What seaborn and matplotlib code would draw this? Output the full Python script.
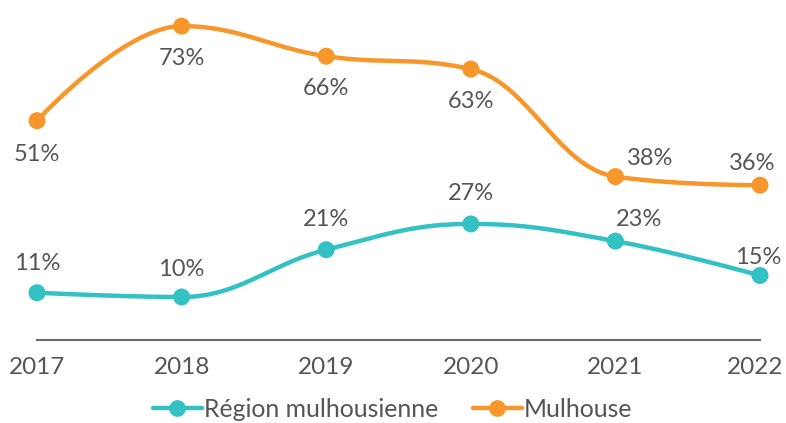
import numpy as np
import pandas as pd
import matplotlib
matplotlib.use("Agg")
import matplotlib.pyplot as plt
from matplotlib.lines import Line2D
from matplotlib.transforms import ScaledTranslation
import seaborn as sns

years = [2017, 2018, 2019, 2020, 2021, 2022]
region = [11, 10, 21, 27, 23, 15]
mulhouse = [51, 73, 66, 63, 38, 36]
series_names = ["Région mulhousienne", "Mulhouse"]

TEAL = "#34C1C4"
ORANGE = "#F7962A"
TEXT = "#555555"

# label offsets in pixels (dx, dy), style only
region_offsets = [(0, 29), (0, 28), (0, 30), (0, 30), (24, 22), (-2, 18)]
mulhouse_offsets = [(0, -34), (0, -32), (0, -32), (0, -32), (35, 18), (-8, 22)]


def spline_path(xs, ys, smoothing=1.5, n=40):
    # Highcharts-like spline through the points
    xs = np.asarray(xs, float)
    ys = np.asarray(ys, float)
    m = len(xs)
    left = [(xs[i], ys[i]) for i in range(m)]
    right = [(xs[i], ys[i]) for i in range(m)]
    d = smoothing + 1
    for i in range(1, m - 1):
        x, y = xs[i], ys[i]
        lx, ly = xs[i - 1], ys[i - 1]
        nx, ny = xs[i + 1], ys[i + 1]
        lcx = (smoothing * x + lx) / d
        lcy = (smoothing * y + ly) / d
        rcx = (smoothing * x + nx) / d
        rcy = (smoothing * y + ny) / d
        if rcx != lcx:
            corr = ((rcy - lcy) * (rcx - x)) / (rcx - lcx) + y - rcy
            lcy += corr
            rcy += corr
        if lcy > ly and lcy > y:
            lcy = max(ly, y)
            rcy = 2 * y - lcy
        elif lcy < ly and lcy < y:
            lcy = min(ly, y)
            rcy = 2 * y - lcy
        if rcy > ny and rcy > y:
            rcy = max(ny, y)
            lcy = 2 * y - rcy
        elif rcy < ny and rcy < y:
            rcy = min(ny, y)
            lcy = 2 * y - rcy
        left[i] = (lcx, lcy)
        right[i] = (rcx, rcy)
    px, py = [], []
    t = np.linspace(0, 1, n)
    for i in range(m - 1):
        p0 = np.array([xs[i], ys[i]])
        p1 = np.array(right[i])
        p2 = np.array(left[i + 1])
        p3 = np.array([xs[i + 1], ys[i + 1]])
        b = ((1 - t)[:, None] ** 3 * p0 + 3 * ((1 - t) ** 2 * t)[:, None] * p1
             + 3 * ((1 - t) * t ** 2)[:, None] * p2 + (t ** 3)[:, None] * p3)
        px.extend(b[:, 0])
        py.extend(b[:, 1])
    return np.array(px), np.array(py)


sns.set_style("white")
plt.rcParams["font.family"] = ["Lato", "DejaVu Sans"]

fig = plt.figure(figsize=(7.86, 4.23), dpi=100)
ax = fig.add_axes([37 / 786, 83 / 423, (760 - 37) / 786, 326.8 / 423])

for vals, color, offs in [(region, TEAL, region_offsets), (mulhouse, ORANGE, mulhouse_offsets)]:
    sx, sy = spline_path(years, vals)
    curve = pd.DataFrame({"x": sx, "y": sy})
    sns.lineplot(data=curve, x="x", y="y", sort=False, color=color, lw=3.2, ax=ax,
                 clip_on=False, solid_capstyle="round")
    pts = pd.DataFrame({"year": years, "val": vals})
    sns.scatterplot(data=pts, x="year", y="val", color=color, s=150, edgecolor="none",
                    ax=ax, clip_on=False, zorder=5)
    for x, v, (dx, dy) in zip(years, vals, offs):
        ax.annotate(f"{v}%", (x, v), xytext=(dx * 0.72, dy * 0.72), textcoords="offset points",
                    ha="center", va="center", fontsize=17, color=TEXT)

ax.set_xlim(2017, 2022)
ax.set_ylim(0, 76)
ax.set_xticks(years)
ax.set_xticklabels([str(y) for y in years])
ax.set_yticks([])
ax.set_xlabel("")
ax.set_ylabel("")
for s in ["top", "right", "left"]:
    ax.spines[s].set_visible(False)
ax.spines["bottom"].set_color("#6b6b6b")
ax.spines["bottom"].set_linewidth(1.5)
ax.spines["bottom"].set_clip_on(False)
ax.tick_params(axis="x", direction="inout", length=10, width=1.5, color="#6b6b6b",
               labelsize=17.5, labelcolor=TEXT, pad=7)

# keep the last year label inside the canvas
last = ax.get_xticklabels()[-1]
last.set_transform(last.get_transform() + ScaledTranslation(-5 / 100, 0, fig.dpi_scale_trans))

handles = [Line2D([0], [0], color=TEAL, lw=3.2, marker="o", markersize=11),
           Line2D([0], [0], color=ORANGE, lw=3.2, marker="o", markersize=11)]
fig.legend(handles, series_names, loc="center", bbox_to_anchor=(0.4994, 0.032), ncol=2,
           frameon=False, fontsize=17.8, labelcolor=TEXT, handlelength=1.98, handletextpad=0.08,
           columnspacing=1.42, borderpad=0, borderaxespad=0)

fig.savefig("out.png", dpi=100)
